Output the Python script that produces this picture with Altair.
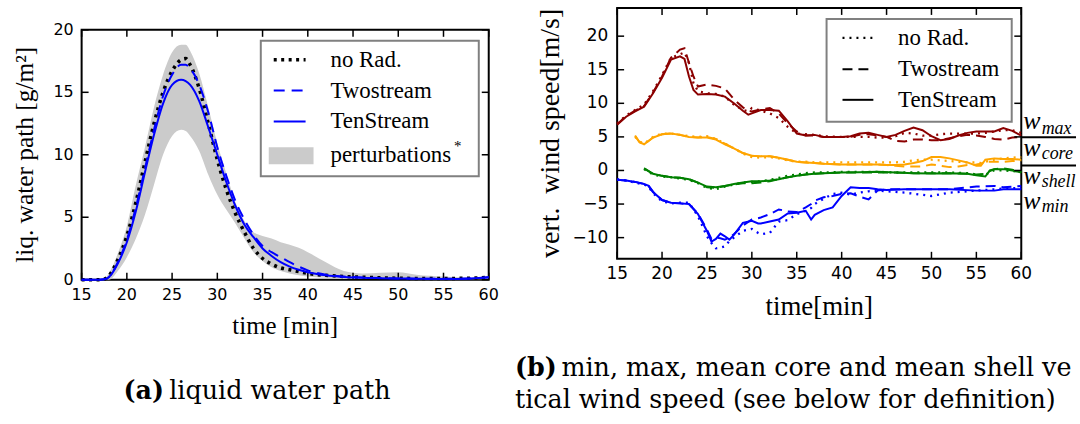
import altair as alt
import pandas as pd

# ---------------- (a) liquid water path ----------------
t_lwp = [15, 16, 17, 17.5, 18, 19, 20, 21, 22, 23,
         24, 25, 26, 26.5, 27, 28, 29, 30, 31, 32,
         33, 34, 35, 36, 37, 38, 39, 40, 42, 44,
         46, 48, 50, 52, 55, 58, 60]
lwp_norad = [0, 0, 0, 0.05, 0.3, 1.6, 3.5, 6.2, 9.4, 12.5,
             15.0, 16.7, 17.6, 17.7, 17.2, 15.3, 12.5, 9.6, 7.2, 5.3,
             3.8, 2.5, 1.7, 1.25, 0.95, 0.8, 0.65, 0.5, 0.35, 0.25,
             0.2, 0.15, 0.12, 0.1, 0.1, 0.12, 0.2]
lwp_two = [0, 0, 0, 0.03, 0.2, 1.4, 3.2, 5.8, 8.9, 12.0,
           14.7, 16.4, 17.2, 17.2, 16.9, 15.6, 13.4, 10.6, 8.3, 6.3,
           4.8, 3.6, 2.7, 2.2, 1.8, 1.4, 1.05, 0.75, 0.4, 0.25,
           0.18, 0.13, 0.1, 0.08, 0.07, 0.1, 0.2]
lwp_ten = [0, 0, 0, 0.03, 0.2, 1.3, 3.0, 5.5, 8.6, 11.6,
           14.1, 15.6, 16.0, 15.9, 15.6, 14.3, 12.2, 10.0, 7.8, 5.9,
           4.4, 3.4, 2.5, 1.9, 1.4, 1.05, 0.8, 0.6, 0.35, 0.22,
           0.15, 0.12, 0.1, 0.08, 0.06, 0.1, 0.2]
pert_low = [0, 0, 0, 0, 0, 0.7, 1.8, 3.3, 5.2, 7.6,
            10.0, 11.5, 12.0, 11.9, 11.5, 10.3, 8.4, 6.8, 5.6, 4.5,
            3.3, 2.2, 1.5, 1.0, 0.7, 0.5, 0.35, 0.25, 0.15, 0.1,
            0.05, 0.05, 0.05, 0.05, 0.03, 0.03, 0.03]
pert_high = [0, 0, 0, 0.05, 0.5, 2.1, 4.3, 7.6, 10.6, 13.8,
             16.4, 18.2, 18.8, 18.8, 18.3, 16.5, 13.8, 10.9, 8.5, 6.2,
             4.7, 3.8, 3.5, 3.3, 3.0, 2.8, 2.55, 2.2, 1.4, 0.7,
             0.5, 0.55, 0.6, 0.4, 0.25, 0.15, 0.12]

# ---------------- (b) vertical wind speed ----------------
t_max = [15, 16, 17, 18, 19, 20, 21, 22, 22.5, 23, 23.5, 24, 25, 26, 27, 28, 29,
         29.6, 30, 31, 32, 33, 34, 35, 36, 37, 38, 40, 41, 42, 43, 44, 45, 46, 47,
         48, 49, 50, 51, 52, 53, 54, 55, 56, 57, 58, 59, 60]
wmax_norad = [7.0, 8.2, 9.0, 9.8, 11.8, 14.2, 16.8, 17.3, 17.6, 16.0, 13.0, 11.8,
              11.5, 11.4, 11.0, 9.8, 9.0, 8.8, 9.3, 8.9, 8.5, 7.8, 6.5, 5.5, 5.4,
              5.3, 5.1, 5.0, 5.0, 5.0, 5.0, 4.9, 4.9, 5.1, 5.6, 5.5, 5.2, 5.2,
              5.4, 5.5, 5.5, 5.5, 5.5, 5.6, 5.8, 6.0, 6.0, 5.6]
wmax_two = [6.9, 8.1, 8.9, 9.6, 11.6, 14.0, 16.8, 18.0, 18.2, 16.0, 14.0, 12.5,
            12.8, 12.6, 12.2, 10.6, 9.4, 8.9, 8.8, 9.1, 9.3, 8.5, 7.0, 5.8, 5.2,
            5.2, 5.0, 5.0, 5.0, 5.3, 5.4, 5.2, 5.0, 4.4, 4.3, 4.6, 4.6, 4.5,
            4.5, 4.8, 5.1, 5.3, 5.2, 5.0, 4.7, 4.6, 4.9, 5.0]
wmax_ten = [6.8, 8.0, 8.8, 9.5, 11.5, 13.8, 16.5, 17.0, 16.6, 14.0, 12.0, 11.3,
            11.4, 11.3, 11.0, 10.0, 8.9, 8.3, 8.5, 9.0, 9.0, 8.9, 7.3, 5.5, 5.2,
            5.3, 5.0, 5.0, 5.1, 5.5, 5.6, 5.3, 5.0, 5.3, 5.9, 6.4, 6.0, 5.1,
            4.5, 4.7, 5.2, 5.6, 5.8, 5.8, 5.8, 6.3, 5.9, 5.2]

t_core = [17, 17.5, 18, 19, 20, 21, 22, 23, 24, 25, 26, 27, 28, 29, 30, 31, 32,
          33, 34, 35, 36, 37, 38, 40, 42, 44, 45, 46, 47, 48, 49, 50, 51, 52, 53,
          54, 55, 55.5, 56, 57, 58, 59, 60]
wcore_norad = [5.0, 4.3, 4.0, 5.0, 5.5, 5.5, 5.3, 5.1, 5.0, 5.1, 4.7, 4.0, 3.3,
               2.5, 2.0, 1.9, 2.0, 1.8, 1.5, 1.3, 1.3, 1.2, 1.2, 1.2, 1.2, 1.2,
               1.2, 1.2, 1.3, 1.5, 1.6, 1.6, 1.5, 1.4, 1.3, 1.2, 1.2, 1.1, 1.3,
               1.6, 1.8, 1.9, 2.0]
wcore_two = [5.1, 4.2, 3.9, 4.9, 5.4, 5.5, 5.3, 5.0, 4.9, 5.0, 4.7, 4.0, 3.3,
             2.6, 2.2, 2.1, 2.1, 1.9, 1.6, 1.3, 1.2, 1.1, 1.0, 0.9, 0.9, 0.9,
             0.8, 0.7, 0.6, 0.6, 0.6, 0.9, 0.7, 0.5, 0.6, 0.8, 0.9, 1.0, 1.3,
             1.3, 1.3, 1.4, 1.5]
wcore_ten = [5.2, 4.2, 3.9, 4.9, 5.4, 5.5, 5.3, 5.0, 4.9, 4.9, 4.6, 3.9, 3.3,
             2.6, 2.2, 2.1, 2.1, 1.9, 1.6, 1.3, 1.2, 1.1, 1.0, 0.9, 0.9, 0.9,
             0.8, 0.8, 0.9, 1.1, 1.4, 2.0, 2.0, 1.8, 1.5, 1.2, 0.7, 0.7, 1.6,
             1.8, 1.7, 1.7, 1.6]

t_shell = [18, 19, 20, 21, 22, 23, 24, 25, 26, 27, 28, 29, 30, 31, 32, 33, 34,
           35, 36, 37, 38, 40, 42, 44, 46, 48, 50, 52, 54, 55, 56, 56.5, 57, 58,
           59, 60]
wshell_norad = [0.2, -0.6, -0.9, -1.0, -1.2, -1.4, -1.9, -2.6, -2.8, -2.4, -2.1,
                -1.8, -1.7, -1.6, -1.4, -1.1, -0.8, -0.6, -0.4, -0.3, -0.3, -0.2,
                -0.2, -0.2, -0.3, -0.3, -0.3, -0.3, -0.4, -0.6, -0.7, -0.2, 0.0,
                0.0, -0.1, -0.2]
wshell_two = [0.3, -0.5, -0.8, -1.0, -1.1, -1.3, -1.8, -2.5, -2.6, -2.3, -2.1,
              -1.9, -1.9, -1.8, -1.6, -1.3, -1.0, -0.8, -0.6, -0.5, -0.4, -0.3,
              -0.3, -0.3, -0.3, -0.4, -0.4, -0.4, -0.5, -0.6, -0.5, -0.1, 0.2,
              0.3, 0.1, -0.2]
wshell_ten = [0.3, -0.5, -0.8, -1.0, -1.1, -1.3, -1.8, -2.4, -2.5, -2.3, -2.0,
              -1.8, -1.6, -1.6, -1.5, -1.3, -1.0, -0.8, -0.6, -0.5, -0.4, -0.3,
              -0.25, -0.2, -0.3, -0.4, -0.45, -0.4, -0.5, -0.7, -0.9, 0.0, 0.2,
              0.2, 0.0, -0.3]

t_min = [15, 16, 17, 18, 18.5, 19, 20, 21, 22, 23, 24, 25, 25.5, 26, 26.5, 27,
         27.5, 28, 29, 30, 30.7, 31, 32, 33, 34, 35, 36, 36.6, 37, 38, 39, 40,
         41, 42, 43, 44, 45, 47, 50, 52, 55, 57, 58, 60]
wmin_norad = [-1.3, -1.5, -1.8, -2.1, -2.4, -3.4, -4.6, -4.9, -4.8, -4.8, -6.8,
              -9.8, -10.8, -11.6, -11.5, -11.3, -10.5, -10.0, -9.0, -8.7, -9.3,
              -9.5, -9.3, -7.6, -7.4, -6.5, -6.0, -5.6, -5.0, -4.2, -3.5, -3.3,
              -3.6, -3.3, -3.1, -3.0, -3.1, -3.3, -3.8, -3.3, -3.0, -2.8, -2.7, -2.6]
wmin_two = [-1.4, -1.5, -1.7, -2.0, -2.3, -3.2, -4.4, -4.8, -4.9, -5.0, -6.4,
            -8.8, -10.2, -10.0, -10.1, -10.3, -10.0, -9.5, -8.2, -7.3, -7.1, -7.0,
            -6.5, -5.8, -6.1, -6.2, -5.5, -5.0, -4.5, -4.0, -3.8, -3.5, -3.4,
            -3.9, -4.3, -3.0, -2.8, -2.8, -2.8, -2.8, -2.4, -2.3, -2.5, -2.3]
wmin_ten = [-1.4, -1.5, -1.7, -2.0, -2.3, -3.2, -4.4, -4.8, -4.9, -5.0, -6.5,
            -9.0, -10.6, -10.2, -9.4, -9.8, -10.3, -9.6, -7.8, -7.5, -7.9, -7.9,
            -7.6, -7.3, -6.4, -6.3, -6.0, -7.3, -6.6, -5.9, -5.5, -3.8, -2.5,
            -2.6, -2.6, -2.8, -2.9, -2.8, -2.8, -2.8, -3.0, -3.0, -2.8, -2.8]

# ticks, labels, text
x_ticks = [15, 20, 25, 30, 35, 40, 45, 50, 55, 60]
lwp_ticks = [0, 5, 10, 15, 20]
w_ticks = [-10, -5, 0, 5, 10, 15, 20]
legend_a = ["no Rad.", "Twostream", "TenStream", "perturbations"]
legend_b = ["no Rad.", "Twostream", "TenStream"]
w_subs = ["max", "core", "shell", "min"]
titles_a = ["time [min]", "liq. water path [g/m²]"]
titles_b = ["time[min]", "vert.\u00a0 wind speed[m/s]"]
caption_a = ["(a)", "liquid water path"]
caption_b = ["(b)", "min, max, mean core and mean shell ver-",
             "tical wind speed (see below for definition)"]

SERIF = "Liberation Serif"
SANS = "DejaVu Sans"
CAPF = "DejaVu Serif"
BLUE = "#0000ff"
GRAY = "#cbcbcb"

one = pd.DataFrame({"d": [0]})


def vtext(txt, x, y, size, font=SERIF, align="left", baseline="middle", **kw):
    return alt.Chart(one).mark_text(text=txt, font=font, fontSize=size, align=align,
                                    baseline=baseline, color="black", **kw).encode(
        x=alt.value(x), y=alt.value(y))


def vrule(x1, x2, y1, y2, color, width, dash=None):
    kw = dict(color=color, strokeWidth=width)
    if dash:
        kw["strokeDash"] = dash
    return alt.Chart(one).mark_rule(**kw).encode(
        x=alt.value(x1), x2=alt.value(x2), y=alt.value(y1), y2=alt.value(y2))


def vrect(x1, x2, y1, y2, fill, stroke=None, sw=0):
    kw = dict(fill=fill, strokeWidth=sw)
    if stroke:
        kw["stroke"] = stroke
    return alt.Chart(one).mark_rect(**kw).encode(
        x=alt.value(x1), x2=alt.value(x2), y=alt.value(y1), y2=alt.value(y2))


def ticks(xs, ys, xvals, yvals, W, H, L=7):
    dx = pd.DataFrame({"v": xvals})
    dy = pd.DataFrame({"v": yvals})
    bx = alt.Chart(dx).mark_rule(color="black", strokeWidth=1.5)
    by = alt.Chart(dy).mark_rule(color="black", strokeWidth=1.5)
    X = alt.X("v:Q", scale=xs, axis=None)
    Y = alt.Y("v:Q", scale=ys, axis=None)
    return [
        bx.encode(x=X, y=alt.value(H), y2=alt.value(H - L)),
        bx.encode(x=X, y=alt.value(0), y2=alt.value(L)),
        by.encode(y=Y, x=alt.value(0), x2=alt.value(L)),
        by.encode(y=Y, x=alt.value(W), x2=alt.value(W - L)),
    ]


def tick_labels(xs, ys, xvals, yvals, H, size, xpad, ypad):
    dx = pd.DataFrame({"v": xvals})
    dy = pd.DataFrame({"v": yvals})
    lx = alt.Chart(dx).mark_text(font=SANS, fontSize=size, color="black",
                                 align="center", baseline="top").encode(
        x=alt.X("v:Q", scale=xs, axis=None), y=alt.value(H + ypad),
        text=alt.Text("v:Q", format="d"))
    ly = alt.Chart(dy).mark_text(font=SANS, fontSize=size, color="black",
                                 align="right", baseline="middle").encode(
        y=alt.Y("v:Q", scale=ys, axis=None), x=alt.value(-xpad),
        text=alt.Text("v:Q", format="d"))
    return [lx, ly]


def line(t, v, color, width, dash, xs, ys, interp="linear"):
    df = pd.DataFrame({"t": t, "v": v})
    kw = dict(color=color, strokeWidth=width, interpolate=interp)
    if dash:
        kw["strokeDash"] = dash
    return alt.Chart(df).mark_line(**kw).encode(
        x=alt.X("t:Q", scale=xs, axis=None), y=alt.Y("v:Q", scale=ys, axis=None))


# ================= panel (a) =================
WA, HA = 409, 251
xs_a = alt.Scale(domain=[15, 60], nice=False, zero=False)
ys_a = alt.Scale(domain=[0, 20], nice=False, zero=False)

area_df = pd.DataFrame({"t": t_lwp, "low": pert_low, "high": pert_high})
area = alt.Chart(area_df).mark_area(color=GRAY, interpolate="monotone").encode(
    x=alt.X("t:Q", scale=xs_a, axis=None),
    y=alt.Y("low:Q", scale=ys_a, axis=None),
    y2="high:Q",
)

layers_a = [
    vrule(-80, -79.5, -5, -5, "white", 0.5),
    vrule(429.5, 430, 395, 395, "white", 0.5),
    area,
]
layers_a += ticks(xs_a, ys_a, x_ticks, lwp_ticks, WA, HA)
layers_a += tick_labels(xs_a, ys_a, x_ticks, lwp_ticks, HA, 16, 8, 7)
layers_a += [
    vtext(titles_a[0], WA / 2, HA + 55, 25, align="center", baseline="alphabetic"),
    vtext(titles_a[1], -57, HA / 2, 25.5, align="center", angle=270),
    line(t_lwp, lwp_norad, "black", 3.5, [3, 4.5], xs_a, ys_a, "monotone"),
    line(t_lwp, lwp_two, BLUE, 2, [11, 7], xs_a, ys_a, "monotone"),
    line(t_lwp, lwp_ten, BLUE, 2, None, xs_a, ys_a, "monotone"),
    # legend
    vrect(180, 399, 11, 147, "white", "#808080", 2),
    vrule(193, 225, 30, 30, "black", 3.5, [3, 4.5]),
    vrule(193, 225, 61, 61, BLUE, 2, [11, 7]),
    vrule(193, 225, 92, 92, BLUE, 2),
    vrect(188, 233, 118, 135, GRAY),
]
rows_a = [30, 61, 92, 126]
for lab, yy in zip(legend_a, rows_a):
    layers_a.append(vtext(lab, 250, yy, 23))
layers_a.append(vtext("*", 374, 117, 15))
# caption (a)
layers_a.append(vtext(caption_a[0], 42, 371, 25.5, font=CAPF, baseline="alphabetic",
                      fontWeight="bold"))
layers_a.append(vtext(caption_a[1], 88, 371, 25.5, font=CAPF, baseline="alphabetic"))

panel_a = alt.layer(*layers_a).properties(width=WA, height=HA)

spacer = alt.Chart(one).mark_point(opacity=0).encode(
    x=alt.value(0), y=alt.value(0)
).properties(width=WA, height=22, view=alt.ViewBackground(stroke="transparent"))

left = alt.vconcat(spacer, panel_a, spacing=0, bounds="flush")

# ================= panel (b) =================
WB, HB = 406, 252
xs_b = alt.Scale(domain=[15, 60], nice=False, zero=False)
ys_b = alt.Scale(domain=[-13.15, 24.2], nice=False, zero=False)

groups = [
    (t_max, [wmax_norad, wmax_two, wmax_ten], "#8b0000"),
    (t_core, [wcore_norad, wcore_two, wcore_ten], "#ffa500"),
    (t_shell, [wshell_norad, wshell_two, wshell_ten], "#008000"),
    (t_min, [wmin_norad, wmin_two, wmin_ten], BLUE),
]
styles = [(2.3, [2, 5]), (2, [10, 6]), (2, None)]

layers_b = [
    vrule(-104.6, -104.1, -5, -5, "white", 0.5),
    vrule(462.5, 463, 416, 416, "white", 0.5),
]
for t, vals, col in groups:
    for v, (w, d) in zip(vals, styles):
        layers_b.append(line(t, v, col, w, d, xs_b, ys_b))
layers_b += ticks(xs_b, ys_b, x_ticks, w_ticks, WB, HB)
layers_b += tick_labels(xs_b, ys_b, x_ticks, w_ticks, HB, 17, 9, 7)
layers_b += [
    vtext(titles_b[0], WB / 2, HB + 56, 27, align="center", baseline="alphabetic"),
    vtext(titles_b[1], -66, HB / 2, 28, align="center", angle=270),
]

# legend (b)
layers_b += [
    vrect(210.4, 396.4, 11, 114.3, "white", "#808080", 2),
    vrule(226.4, 257.4, 30, 30, "black", 2.3, [2, 5]),
    vrule(226.4, 257.4, 61.7, 61.7, "black", 2, [10, 6]),
    vrule(226.4, 257.4, 92.3, 92.3, "black", 2),
]
for lab, yy in zip(legend_b, [30, 61.7, 92.3]):
    layers_b.append(vtext(lab, 282.2, yy, 23))

# w labels on the right side
w_base = [121.7, 148.3, 176.7, 201.5]
sub_base = [126.7, 151.7, 180, 205]
for s, yb, ys_ in zip(w_subs, w_base, sub_base):
    layers_b.append(vtext("w", WB + 2, yb, 26, baseline="alphabetic", fontStyle="italic"))
    layers_b.append(vtext(s, WB + 20.5, ys_, 18, baseline="alphabetic", fontStyle="italic"))
layers_b.append(vrule(WB, WB + 55, 130, 130, "black", 2))
layers_b.append(vrule(WB, WB + 55, 158.3, 158.3, "black", 2))

# caption (b)
layers_b.append(vtext(caption_b[0], -102.6, 370, 25.5, font=CAPF, baseline="alphabetic",
                      fontWeight="bold"))
layers_b.append(vtext(caption_b[1], -56, 370, 25.5, font=CAPF, baseline="alphabetic",
                      limit=519, ellipsis="\u200b"))
layers_b.append(vtext(caption_b[2], -102.6, 402, 25.5, font=CAPF, baseline="alphabetic"))

panel_b = alt.layer(*layers_b).properties(width=WB, height=HB)

chart = alt.hconcat(left, panel_b, spacing=0).properties(
    padding=0, background="white"
).configure_view(stroke="black", strokeWidth=2)

chart.save("out.html", embed_options={"renderer": "svg", "actions": False})
